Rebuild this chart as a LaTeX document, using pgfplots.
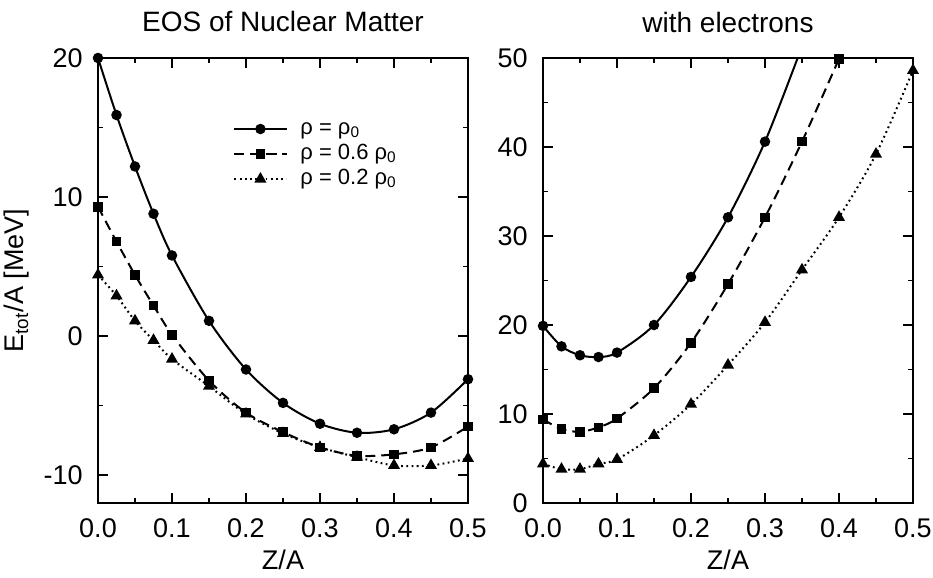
\documentclass[border=0pt]{standalone}
\usepackage{fontspec}
\setmainfont{Liberation Sans}
\usepackage{pgfplots}
\pgfplotsset{compat=1.18}

\pgfplotsset{
  eosaxis/.style={
    scale only axis, width=185pt, height=222.5pt,
    xmin=0, xmax=0.5,
    xtick={0,0.1,0.2,0.3,0.4,0.5},
    minor x tick num=1, minor y tick num=1,
    tick align=inside,
    major tick length=5pt, minor tick length=2.5pt,
    axis line style={line width=1pt},
    every tick/.style={black, line width=0.8pt},
    /pgf/number format/assume math mode=true,
    xticklabel style={/pgf/number format/fixed, /pgf/number format/fixed zerofill,
      /pgf/number format/precision=1,
      font=\fontsize{13.5}{15}\selectfont, anchor=base, yshift=-17.5pt},
    yticklabel style={font=\fontsize{13.5}{15}\selectfont, anchor=east, inner sep=0pt, xshift=-7.5pt},
    title style={at={(axis description cs:0.5,1)}, anchor=base, yshift=7pt, font=\fontsize{14}{16}\selectfont},
    xlabel style={at={(axis description cs:0.5,0)}, anchor=base, yshift=-33.5pt, font=\fontsize{13.5}{15}\selectfont},
    xlabel={Z/A},
  },
  rho1/.style={black, line width=1pt, smooth, mark=*, mark size=2.1pt},
  rho6/.style={black, line width=1pt, smooth, dash pattern=on 5pt off 3pt, mark=square*, mark size=1.9pt, mark options={solid}},
  rho2/.style={black, line width=1pt, smooth, dash pattern=on 0.9pt off 1.7pt, mark=triangle*, mark size=2.5pt, mark options={solid}},
}

\begin{document}
\begin{tikzpicture}
\begin{axis}[eosaxis,
  ymin=-12, ymax=20,
  ytick={-10,0,10,20},
  title={EOS of Nuclear Matter},
  ylabel={E\textsubscript{tot}/A [MeV]},
  ylabel style={at={(axis description cs:-0.2195,0.5)}, anchor=center, font=\fontsize{13.5}{15}\selectfont},
  legend style={draw=none, fill=none, inner sep=0pt, outer sep=0pt,
    at={(axis description cs:0.366,0.864)}, anchor=north west,
    font=\fontsize{11}{13}\selectfont, row sep=2pt,
    nodes={inner sep=0pt, text height=8pt, text depth=2.5pt},
    /tikz/every odd column/.append style={column sep=6.5pt}},
  legend cell align=left,
  legend image code/.code={\draw[mark repeat=2,mark phase=2,#1] plot coordinates {(0pt,0pt)(13pt,0pt)(26pt,0pt)};},
]
\addplot[rho1] coordinates {
  (0,20) (0.025,15.9) (0.05,12.2) (0.075,8.8) (0.1,5.8) (0.15,1.1) (0.2,-2.4)
  (0.25,-4.8) (0.3,-6.3) (0.35,-6.95) (0.4,-6.7) (0.45,-5.5) (0.5,-3.1)};
\addlegendentry{ρ = ρ\textsubscript{0}}
\addplot[rho6] coordinates {
  (0,9.3) (0.025,6.8) (0.05,4.4) (0.075,2.2) (0.1,0.1) (0.15,-3.2) (0.2,-5.5)
  (0.25,-6.9) (0.3,-8.0) (0.35,-8.6) (0.4,-8.5) (0.45,-8.0) (0.5,-6.5)};
\addlegendentry{ρ = 0.6 ρ\textsubscript{0}}
\addplot[rho2] coordinates {
  (0,4.4) (0.025,2.9) (0.05,1.1) (0.075,-0.3) (0.1,-1.65) (0.15,-3.6) (0.2,-5.6)
  (0.25,-7.0) (0.3,-8.0) (0.35,-8.7) (0.4,-9.3) (0.45,-9.3) (0.5,-8.8)};
\addlegendentry{ρ = 0.2 ρ\textsubscript{0}}
\end{axis}

\begin{axis}[eosaxis, at={(222.5pt,0pt)},
  ymin=0, ymax=50,
  ytick={0,10,20,30,40,50},
  title={with electrons},
]
\addplot[rho1, mark indices={1,...,9}] coordinates {
  (0,19.9) (0.025,17.6) (0.05,16.6) (0.075,16.4) (0.1,16.9) (0.15,20.0) (0.2,25.4)
  (0.25,32.1) (0.3,40.6) (0.35,51.3)};
\addplot[rho6] coordinates {
  (0,9.4) (0.025,8.3) (0.05,8.0) (0.075,8.5) (0.1,9.5) (0.15,12.9) (0.2,18.0)
  (0.25,24.6) (0.3,32.1) (0.35,40.6) (0.4,49.9)};
\addplot[rho2] coordinates {
  (0,4.4) (0.025,3.8) (0.05,3.8) (0.075,4.4) (0.1,4.9) (0.15,7.6) (0.2,11.1)
  (0.25,15.5) (0.3,20.3) (0.35,26.2) (0.4,32.1) (0.45,39.2) (0.5,48.6)};
\end{axis}
\pgfresetboundingbox
\useasboundingbox (-49pt,-37.5pt) rectangle (417.5pt,251.5pt);
\end{tikzpicture}
\end{document}
